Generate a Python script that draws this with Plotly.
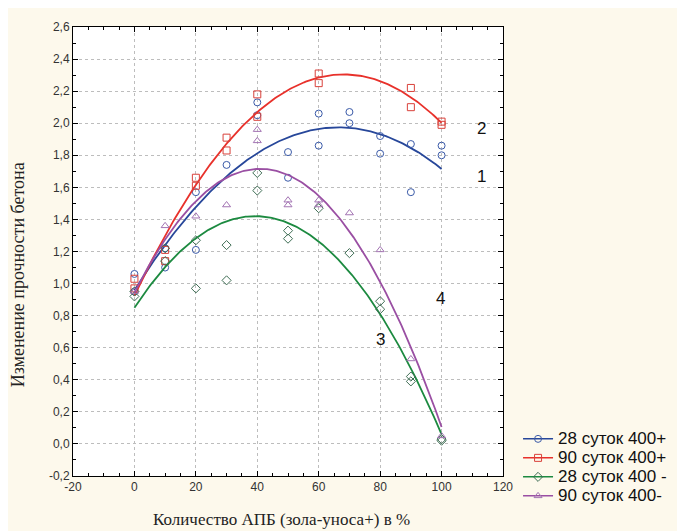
import numpy as np
import plotly.graph_objects as go

# ---- data ----
blue_x = [0, 0, 10, 10, 20, 20, 30, 40, 40, 50, 50, 60, 60, 70, 70, 80, 80, 90, 90, 100, 100]
blue_y = [1.06, 0.95, 1.22, 1.10, 1.57, 1.21, 1.74, 2.13, 2.05, 1.82, 1.66, 2.06, 1.86, 2.07, 2.00, 1.92, 1.81, 1.87, 1.57, 1.86, 1.80]

red_x = [0, 0, 10, 10, 20, 20, 30, 30, 40, 40, 60, 60, 90, 90, 100, 100]
red_y = [1.03, 0.97, 1.21, 1.14, 1.66, 1.61, 1.91, 1.83, 2.18, 2.04, 2.31, 2.25, 2.22, 2.10, 2.01, 1.99]

green_x = [0, 0, 10, 10, 20, 20, 30, 30, 40, 40, 50, 50, 60, 70, 80, 80, 90, 90, 100, 100]
green_y = [0.92, 0.95, 1.22, 1.14, 1.27, 0.97, 1.24, 1.02, 1.69, 1.58, 1.33, 1.28, 1.47, 1.19, 0.89, 0.84, 0.42, 0.39, 0.03, 0.02]

purple_x = [0, 10, 20, 30, 40, 40, 50, 50, 60, 60, 70, 80, 90, 100]
purple_y = [0.95, 1.36, 1.42, 1.49, 1.96, 1.89, 1.52, 1.49, 1.52, 1.49, 1.44, 1.21, 0.53, 0.05]

names = ["28 суток 400+", "90 суток 400+", "28 суток 400 -", "90 суток 400-"]

x_ticks = [-20, 0, 20, 40, 60, 80, 100, 120]
y_ticks = [-0.2, 0.0, 0.2, 0.4, 0.6, 0.8, 1.0, 1.2, 1.4, 1.6, 1.8, 2.0, 2.2, 2.4, 2.6]

series = [
    (blue_x, blue_y, "#27479a", "#3a5aa8", "circle-open"),
    (red_x, red_y, "#e8312b", "#d9403a", "square-open"),
    (green_x, green_y, "#1c8a40", "#3f6e55", "diamond-open"),
    (purple_x, purple_y, "#9a4fa3", "#a374b3", "triangle-up-open"),
]

fig = go.Figure()
for (xs, ys, lc, mc, sym), nm in zip(series, names):
    coef = np.polyfit(xs, ys, 2)
    fx = np.linspace(min(xs), max(xs), 200)
    fy = np.polyval(coef, fx)
    fig.add_trace(go.Scatter(x=fx, y=fy, mode="lines", line=dict(color=lc, width=1.8),
                             showlegend=False, hoverinfo="skip"))
    fig.add_trace(go.Scatter(x=xs, y=ys, mode="markers", showlegend=False,
                             marker=dict(symbol=sym, size=7, color=mc, line=dict(width=1, color=mc))))
for (xs, ys, lc, mc, sym), nm in zip(series, names):
    fig.add_trace(go.Scatter(x=[None], y=[None], mode="lines+markers",
                             name=f'<span style="font-size:17px">{nm}</span>',
                             line=dict(color=lc, width=1.5),
                             marker=dict(symbol=sym, size=7, color=mc, line=dict(width=1, color=mc))))

for x, y, t in [(113, 1.97, "2"), (113, 1.67, "1"), (80, 0.65, "3"), (99.5, 0.91, "4")]:
    fig.add_annotation(x=x, y=y, text=t, showarrow=False,
                       font=dict(family="Liberation Sans, Arial", size=17, color="#111"))

# axis titles as annotations (placed like the reference)
fig.add_annotation(xref="paper", yref="paper", x=-0.128, y=0.449, textangle=-90,
                   xanchor="center", yanchor="middle",
                   text="Изменение прочности бетона", showarrow=False,
                   font=dict(family="Liberation Serif, Times New Roman", size=18, color="#222"))
fig.add_annotation(xref="paper", yref="paper", x=0.486, y=-0.097,
                   xanchor="center", yanchor="middle",
                   text="Количество АПБ (зола-уноса+) в %", showarrow=False,
                   font=dict(family="Liberation Serif, Times New Roman", size=17, color="#222"))

axis_common = dict(showline=True, linecolor="black", linewidth=1, mirror="ticks",
                   ticks="inside", ticklen=5, tickcolor="black",
                   showgrid=True, gridcolor="#bdbdbd", griddash="dot", gridwidth=1,
                   zeroline=False,
                   tickfont=dict(family="Liberation Sans, Arial", size=12, color="#333"))

fig.update_xaxes(range=[-20, 120], tickvals=x_ticks, ticktext=[str(v) for v in x_ticks],
                 minor=dict(ticks="inside", ticklen=3, dtick=5, tickcolor="black", showgrid=False),
                 **axis_common)
fig.update_yaxes(range=[-0.2, 2.6], tickvals=y_ticks,
                 ticktext=[f"{v:.1f}".replace(".", ",") for v in y_ticks],
                 minor=dict(ticks="inside", ticklen=3, dtick=0.1, tickcolor="black", showgrid=False),
                 **axis_common)

fig.update_layout(
    width=685, height=531,
    margin=dict(l=65, r=190, t=15, b=63),
    paper_bgcolor="#fdf9ec", plot_bgcolor="white",
    showlegend=True,
    legend=dict(x=1.035, y=0.115, xanchor="left", yanchor="top",
                font=dict(family="Liberation Sans, Arial", size=12, color="#111"),
                bgcolor="rgba(0,0,0,0)", tracegroupgap=0),
)

fig.write_html("out.html")
